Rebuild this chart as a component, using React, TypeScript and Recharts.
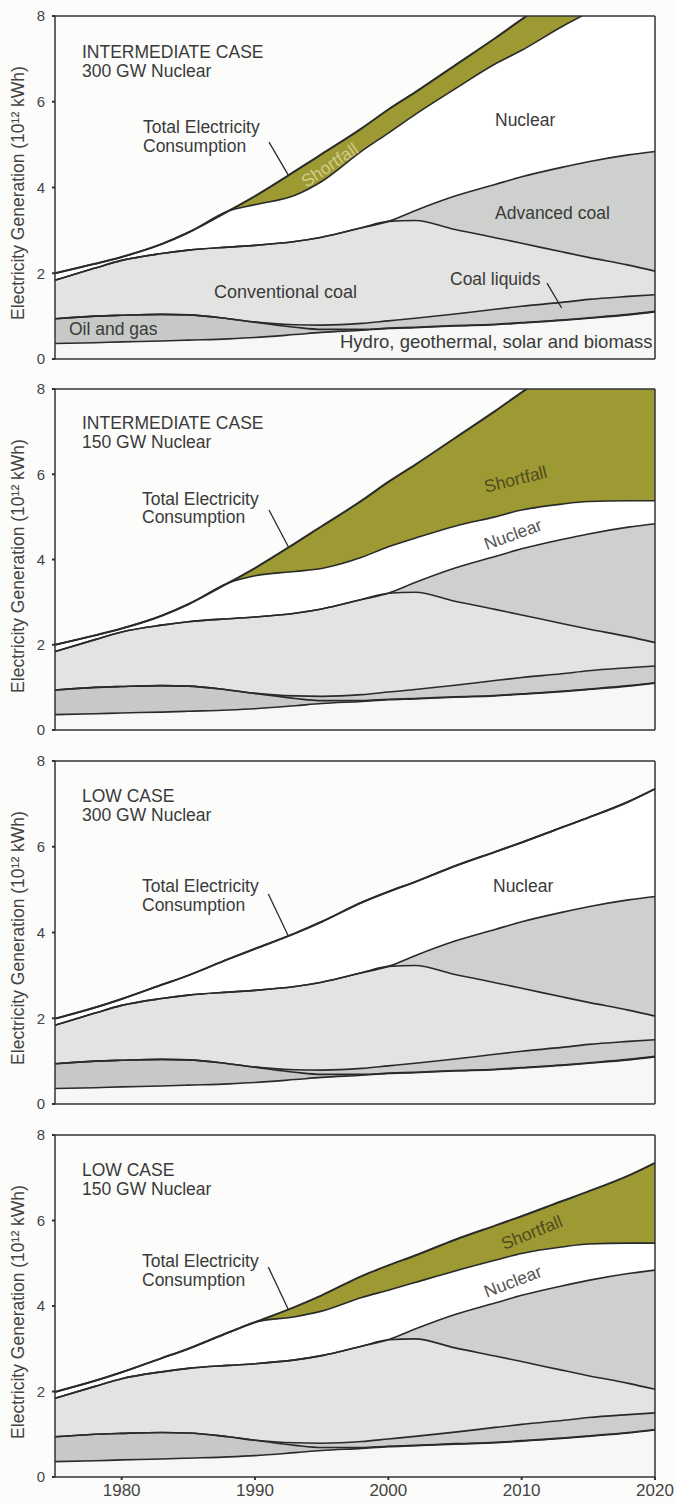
import React from 'react';
import { ComposedChart, Area, Line, XAxis, YAxis, ReferenceLine } from 'recharts';

// ---------- data (10^12 kWh) ----------
const years = [1975, 1978, 1980, 1983, 1985, 1988, 1990, 1993, 1995, 1998, 2000, 2002, 2005, 2008, 2010, 2013, 2015, 2018, 2020];

const hydroTop = [0.36, 0.38, 0.40, 0.42, 0.44, 0.47, 0.50, 0.57, 0.62, 0.67, 0.71, 0.73, 0.77, 0.80, 0.84, 0.90, 0.95, 1.03, 1.10];
const oilGasTop = [0.94, 1.00, 1.02, 1.04, 1.03, 0.94, 0.86, 0.74, 0.69, 0.69, 0.72, 0.74, 0.78, 0.81, 0.85, 0.91, 0.96, 1.04, 1.11];
const coalLiquidsTop = [0.94, 1.00, 1.02, 1.04, 1.03, 0.94, 0.86, 0.80, 0.79, 0.83, 0.89, 0.95, 1.05, 1.16, 1.23, 1.32, 1.39, 1.46, 1.50];
const conventionalCoalTop = [1.84, 2.12, 2.30, 2.46, 2.54, 2.61, 2.65, 2.74, 2.84, 3.06, 3.21, 3.23, 3.02, 2.83, 2.70, 2.50, 2.37, 2.19, 2.05];
const advancedCoalTop = [1.84, 2.12, 2.30, 2.46, 2.54, 2.61, 2.65, 2.74, 2.84, 3.06, 3.21, 3.46, 3.80, 4.07, 4.25, 4.47, 4.60, 4.76, 4.84];

const totalIntermediate = [2.00, 2.22, 2.38, 2.68, 2.95, 3.45, 3.80, 4.38, 4.78, 5.38, 5.82, 6.22, 6.85, 7.48, 7.92, 8.55, 8.98, 9.60, 10.0];
const supplyIntermediate300 = [2.00, 2.22, 2.38, 2.68, 2.95, 3.45, 3.60, 3.82, 4.14, 4.85, 5.27, 5.70, 6.30, 6.88, 7.20, 7.75, 8.08, 8.55, 8.85];
const supplyIntermediate150 = [2.00, 2.22, 2.38, 2.68, 2.95, 3.45, 3.62, 3.72, 3.79, 4.05, 4.30, 4.50, 4.78, 5.00, 5.16, 5.30, 5.36, 5.38, 5.38];
const totalLow = [1.99, 2.25, 2.45, 2.78, 3.00, 3.38, 3.62, 3.98, 4.25, 4.70, 4.95, 5.18, 5.55, 5.88, 6.10, 6.45, 6.68, 7.05, 7.35];
const supplyLow300 = [1.99, 2.25, 2.45, 2.78, 3.00, 3.38, 3.62, 3.98, 4.25, 4.70, 4.95, 5.18, 5.55, 5.88, 6.10, 6.45, 6.68, 7.05, 7.35];
const supplyLow150 = [1.99, 2.25, 2.45, 2.78, 3.00, 3.38, 3.62, 3.75, 3.88, 4.20, 4.37, 4.55, 4.82, 5.07, 5.23, 5.38, 5.45, 5.47, 5.47];

const xTicks = [1980, 1990, 2000, 2010, 2020];
const yTicks = [0, 2, 4, 6, 8];
const yTitle = 'Electricity Generation (10¹² kWh)';

// ---------- styles ----------
const FONT = "'Liberation Sans', Arial, Helvetica, sans-serif";
const TEXT = '#3a3a3a';
const LINE = '#2a2a2a';
const C_HYDRO = '#f7f7f5';
const C_OIL = '#c6c9c5';
const C_LIQ = '#cbcecb';
const C_CONV = '#e3e4e1';
const C_ADV = '#cdd0cd';
const C_NUC = '#ffffff';
const C_SHORT = '#9d9a34';

function buildRows(total: number[], supply: number[]) {
  return years.map((year, i) => ({
    year,
    hydro: hydroTop[i],
    oil: oilGasTop[i] - hydroTop[i],
    liquids: coalLiquidsTop[i] - oilGasTop[i],
    conv: conventionalCoalTop[i] - coalLiquidsTop[i],
    adv: advancedCoalTop[i] - conventionalCoalTop[i],
    nuc: supply[i] - advancedCoalTop[i],
    short: total[i] - supply[i],
    lHydro: hydroTop[i],
    lOil: oilGasTop[i],
    lLiq: coalLiquidsTop[i],
    lConv: conventionalCoalTop[i],
    lAdv: advancedCoalTop[i],
    lSupply: supply[i],
    lTotal: total[i],
  }));
}

type Txt = { t: string; x: number; y: number; size?: number; rot?: number; anchor?: string; fill?: string };

type Cfg = {
  total: number[];
  supply: number[];
  top: number;
  plotH: number;
  showX: boolean;
  leader: { x: number; y: number }[];
  extraLeader?: { x: number; y: number }[];
  texts: Txt[];
};

// text y values are measured from (plot top - 5)
const panels: Cfg[] = [
  {
    total: totalIntermediate,
    supply: supplyIntermediate300,
    top: 16,
    plotH: 343,
    showX: false,
    leader: [{ x: 1991.05, y: 5.06 }, { x: 1992.5, y: 4.29 }],
    extraLeader: [{ x: 2011.9, y: 1.77 }, { x: 2013.0, y: 1.19 }],
    texts: [
      { t: 'INTERMEDIATE CASE', x: 82, y: 47 },
      { t: '300 GW Nuclear', x: 82, y: 66 },
      { t: 'Total Electricity', x: 143, y: 122 },
      { t: 'Consumption', x: 143, y: 141 },
      { t: 'Nuclear', x: 495, y: 115 },
      { t: 'Shortfall', x: 333, y: 159, rot: -34, anchor: 'middle', fill: '#cfcc88' },
      { t: 'Advanced coal', x: 495, y: 208 },
      { t: 'Coal liquids', x: 450, y: 274 },
      { t: 'Conventional coal', x: 214, y: 287, size: 18 },
      { t: 'Oil and gas', x: 69, y: 324 },
      { t: 'Hydro, geothermal, solar and biomass', x: 340, y: 337, size: 18.5 },
    ],
  },
  {
    total: totalIntermediate,
    supply: supplyIntermediate150,
    top: 389,
    plotH: 341,
    showX: false,
    leader: [{ x: 1991.05, y: 5.16 }, { x: 1992.5, y: 4.3 }],
    texts: [
      { t: 'INTERMEDIATE CASE', x: 82, y: 45 },
      { t: '150 GW Nuclear', x: 82, y: 64 },
      { t: 'Total Electricity', x: 142, y: 121 },
      { t: 'Consumption', x: 142, y: 139 },
      { t: 'Shortfall', x: 517, y: 101, rot: -14, anchor: 'middle', fill: '#4f4d1c' },
      { t: 'Nuclear', x: 515, y: 156, rot: -20, anchor: 'middle', fill: '#555' },
    ],
  },
  {
    total: totalLow,
    supply: supplyLow300,
    top: 761,
    plotH: 343,
    showX: false,
    leader: [{ x: 1991.0, y: 4.9 }, { x: 1992.5, y: 3.92 }],
    texts: [
      { t: 'LOW CASE', x: 82, y: 46 },
      { t: '300 GW Nuclear', x: 82, y: 65 },
      { t: 'Total Electricity', x: 142, y: 136 },
      { t: 'Consumption', x: 142, y: 155 },
      { t: 'Nuclear', x: 493, y: 136 },
    ],
  },
  {
    total: totalLow,
    supply: supplyLow150,
    top: 1135,
    plotH: 342,
    showX: true,
    leader: [{ x: 1991.0, y: 4.91 }, { x: 1992.5, y: 3.92 }],
    texts: [
      { t: 'LOW CASE', x: 82, y: 46 },
      { t: '150 GW Nuclear', x: 82, y: 65 },
      { t: 'Total Electricity', x: 142, y: 137 },
      { t: 'Consumption', x: 142, y: 156 },
      { t: 'Shortfall', x: 534, y: 108, rot: -22, anchor: 'middle', fill: '#4f4d1c' },
      { t: 'Nuclear', x: 515, y: 157, rot: -21, anchor: 'middle', fill: '#555' },
    ],
  },
];

const MT = 10;
const SHIFT = MT - 5;

function Panel({ cfg }: { cfg: Cfg }) {
  const data = buildRows(cfg.total, cfg.supply);
  const xH = cfg.showX ? 28 : 16;
  const height = MT + cfg.plotH + xH;
  const areaCommon = { type: 'monotone' as const, stackId: 's', stroke: 'none', isAnimationActive: false, activeDot: false as const };
  const lineCommon = { type: 'monotone' as const, stroke: LINE, strokeWidth: 1.6, dot: false as const, activeDot: false as const, isAnimationActive: false };
  const ty = MT + 177;
  return (
    <div style={{ position: 'absolute', left: 0, top: cfg.top - MT, width: 676, height }}>
      <ComposedChart width={676} height={height} data={data} margin={{ top: MT, right: 21, bottom: 0, left: 0 }}>
        <XAxis
          dataKey="year"
          type="number"
          domain={[1975, 2020]}
          ticks={xTicks}
          interval={0}
          height={xH}
          tickSize={3}
          tickMargin={4}
          axisLine={{ stroke: '#333', strokeWidth: 1.5 }}
          tickLine={{ stroke: '#333', strokeWidth: 2 }}
          tick={cfg.showX ? { fontSize: 17, fill: '#444', fontFamily: FONT } : false}
        />
        <YAxis
          type="number"
          domain={[0, 8]}
          ticks={yTicks}
          allowDataOverflow
          interval={0}
          width={55}
          tickSize={3}
          tickMargin={7}
          axisLine={{ stroke: '#333', strokeWidth: 1.5 }}
          tickLine={{ stroke: '#333', strokeWidth: 2 }}
          tick={{ fontSize: 15, fill: '#444', fontFamily: FONT }}
        />
        <Area {...areaCommon} dataKey="hydro" fill={C_HYDRO} fillOpacity={1} />
        <Area {...areaCommon} dataKey="oil" fill={C_OIL} fillOpacity={1} />
        <Area {...areaCommon} dataKey="liquids" fill={C_LIQ} fillOpacity={1} />
        <Area {...areaCommon} dataKey="conv" fill={C_CONV} fillOpacity={1} />
        <Area {...areaCommon} dataKey="adv" fill={C_ADV} fillOpacity={1} />
        <Area {...areaCommon} dataKey="nuc" fill={C_NUC} fillOpacity={1} />
        <Area {...areaCommon} dataKey="short" fill={C_SHORT} fillOpacity={1} />
        <Line {...lineCommon} dataKey="lHydro" />
        <Line {...lineCommon} dataKey="lOil" />
        <Line {...lineCommon} dataKey="lLiq" />
        <Line {...lineCommon} dataKey="lConv" />
        <Line {...lineCommon} dataKey="lAdv" />
        <Line {...lineCommon} dataKey="lSupply" />
        <Line {...lineCommon} dataKey="lTotal" strokeWidth={2} />
        <ReferenceLine y={8} stroke="#333" strokeWidth={1.5} ifOverflow="visible" />
        <ReferenceLine x={2020} stroke="#333" strokeWidth={1.5} ifOverflow="visible" />
        <ReferenceLine segment={cfg.leader} stroke={LINE} strokeWidth={1.3} ifOverflow="visible" />
        {cfg.extraLeader ? (
          <ReferenceLine segment={cfg.extraLeader} stroke={LINE} strokeWidth={1.3} ifOverflow="visible" />
        ) : null}
      </ComposedChart>
      <svg width={676} height={height} style={{ position: 'absolute', left: 0, top: 0, pointerEvents: 'none' }}>
        <text
          x={24}
          y={ty}
          transform={`rotate(-90, 24, ${ty})`}
          textAnchor="middle"
          fontSize={17.5}
          fill="#444"
          fontFamily={FONT}
        >
          {yTitle}
        </text>
        {cfg.texts.map((tx, i) => {
          const y = tx.y + SHIFT;
          return (
            <text
              key={i}
              x={tx.x}
              y={y}
              fontSize={tx.size ?? 17.5}
              fill={tx.fill ?? TEXT}
              fontFamily={FONT}
              textAnchor={tx.anchor ?? 'start'}
              transform={tx.rot ? `rotate(${tx.rot}, ${tx.x}, ${y})` : undefined}
            >
              {tx.t}
            </text>
          );
        })}
      </svg>
    </div>
  );
}

export default function App() {
  return (
    <div
      style={{
        position: 'absolute',
        left: 0,
        top: 0,
        width: 676,
        height: 1504,
        overflow: 'hidden',
        background: '#fcfcfa',
        fontFamily: FONT,
      }}
    >
      {panels.map((p, i) => (
        <Panel key={i} cfg={p} />
      ))}
    </div>
  );
}
